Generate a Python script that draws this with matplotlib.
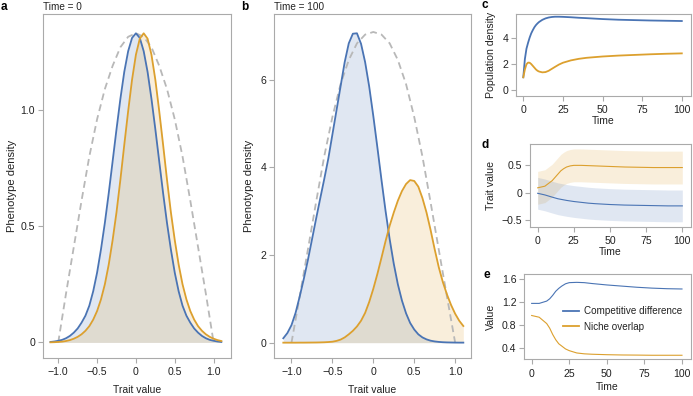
import matplotlib
matplotlib.use("Agg")
import matplotlib.pyplot as plt

plt.rcParams['font.family'] = ['Liberation Sans', 'DejaVu Sans']
plt.rcParams['font.size'] = 7.5

W, H = 693, 396
BLUE = '#4A74B4'
ORANGE = '#DCA02E'
GREY = '#aaaaaa'
TXT = '#222222'

# trait axis for phenotype distributions
trait = [-1.1, -1.05, -1.0, -0.95, -0.9, -0.85, -0.8, -0.75, -0.7, -0.65, -0.6,
         -0.55, -0.5, -0.45, -0.4, -0.35, -0.3, -0.25, -0.2, -0.15, -0.1, -0.05,
         0.0, 0.05, 0.1, 0.15, 0.2, 0.25, 0.3, 0.35, 0.4, 0.45, 0.5, 0.55, 0.6,
         0.65, 0.7, 0.75, 0.8, 0.85, 0.9, 0.95, 1.0, 1.05, 1.1]

# time = 0
blue_t0 = [0.002, 0.004, 0.007, 0.011, 0.018, 0.028, 0.042, 0.06, 0.085, 0.115, 0.158,
           0.22, 0.30, 0.40, 0.514, 0.642, 0.779, 0.917, 1.048, 1.164, 1.253, 1.31,
           1.33, 1.31, 1.253, 1.164, 1.048, 0.917, 0.779, 0.642, 0.514, 0.40, 0.30,
           0.22, 0.158, 0.115, 0.085, 0.06, 0.042, 0.028, 0.018, 0.011, 0.007, 0.004, 0.002]
orange_t0 = [0.0005, 0.001, 0.002, 0.0035, 0.006, 0.01, 0.016, 0.024, 0.035, 0.05, 0.07,
             0.098, 0.135, 0.185, 0.25, 0.335, 0.44, 0.56, 0.70, 0.85, 0.995, 1.13,
             1.238, 1.307, 1.33, 1.307, 1.238, 1.13, 0.995, 0.85, 0.70, 0.56, 0.44,
             0.335, 0.25, 0.185, 0.135, 0.098, 0.07, 0.05, 0.035, 0.024, 0.016, 0.01, 0.006]

# time = 100
blue_t100 = [0.10, 0.22, 0.40, 0.68, 1.05, 1.45, 1.88, 2.35, 2.82, 3.28, 3.73,
             4.2, 4.75, 5.3, 5.85, 6.4, 6.83, 7.05, 7.06, 6.82, 6.4, 5.84,
             5.17, 4.45, 3.71, 3.0, 2.36, 1.80, 1.33, 0.96, 0.67, 0.45, 0.30,
             0.19, 0.12, 0.075, 0.045, 0.028, 0.017, 0.01, 0.006, 0.004, 0.002, 0.001, 0.001]
orange_t100 = [0.0, 0.0, 0.0, 0.0, 0.001, 0.001, 0.002, 0.003, 0.004, 0.006, 0.009,
               0.014, 0.022, 0.04, 0.07, 0.12, 0.19, 0.27, 0.37, 0.50, 0.68, 0.93,
               1.23, 1.57, 1.94, 2.32, 2.67, 2.97, 3.24, 3.46, 3.62, 3.71, 3.69,
               3.56, 3.30, 2.97, 2.57, 2.13, 1.72, 1.38, 1.10, 0.86, 0.66, 0.50, 0.38]

# resource distribution (dashed)
res_x = [-1.0, -0.9, -0.8, -0.7, -0.6, -0.5, -0.4, -0.3, -0.2, -0.1, 0.0,
         0.1, 0.2, 0.3, 0.4, 0.5, 0.6, 0.7, 0.8, 0.9, 1.0]
res_t0 = [0.0, 0.21, 0.41, 0.61, 0.80, 0.96, 1.09, 1.19, 1.27, 1.315, 1.33,
          1.315, 1.27, 1.19, 1.09, 0.96, 0.80, 0.61, 0.41, 0.21, 0.0]
res_t100 = [0.0, 1.05, 2.12, 3.2, 4.25, 5.15, 5.9, 6.45, 6.83, 7.03, 7.09,
            7.03, 6.83, 6.45, 5.9, 5.15, 4.25, 3.2, 2.12, 1.05, 0.0]

# population dynamics
time_c = [0, 1, 2, 3, 4, 5, 6, 7, 8, 9, 10, 12, 14, 16, 18, 20, 22.5, 25, 30, 35,
          40, 50, 60, 70, 80, 90, 100]
pop_blue = [1.0, 2.4, 3.2, 3.65, 4.05, 4.38, 4.63, 4.85, 5.02, 5.15, 5.26, 5.42, 5.53,
            5.6, 5.64, 5.66, 5.66, 5.65, 5.62, 5.58, 5.55, 5.48, 5.43, 5.4, 5.37, 5.35, 5.33]
pop_orange = [1.0, 1.6, 2.0, 2.13, 2.12, 2.02, 1.88, 1.74, 1.6, 1.5, 1.44, 1.38, 1.4,
              1.5, 1.65, 1.8, 1.98, 2.12, 2.3, 2.42, 2.5, 2.6, 2.67, 2.72, 2.77, 2.81, 2.84]

# trait means and spread
time_d = [0, 5, 10, 12, 14, 16, 18, 20, 22.5, 25, 30, 35, 40, 50, 60, 70, 80, 90, 100]
mean_orange = [0.09, 0.12, 0.22, 0.28, 0.34, 0.40, 0.44, 0.47, 0.49, 0.50, 0.50, 0.495,
               0.49, 0.48, 0.47, 0.465, 0.46, 0.46, 0.46]
sd_orange = [0.30, 0.30, 0.30, 0.30, 0.30, 0.30, 0.30, 0.30, 0.30, 0.30, 0.30, 0.30,
             0.30, 0.30, 0.30, 0.30, 0.30, 0.30, 0.30]
mean_blue = [-0.01, -0.04, -0.08, -0.095, -0.11, -0.12, -0.13, -0.14, -0.15, -0.16,
             -0.175, -0.19, -0.2, -0.215, -0.225, -0.23, -0.235, -0.24, -0.24]
sd_blue = [0.29, 0.29, 0.29, 0.29, 0.29, 0.29, 0.29, 0.29, 0.29, 0.29, 0.29, 0.29,
           0.29, 0.29, 0.29, 0.29, 0.29, 0.29, 0.29]

# coexistence metrics
comp_diff = [1.18, 1.18, 1.22, 1.26, 1.32, 1.39, 1.44, 1.48, 1.52, 1.54, 1.545, 1.54,
             1.525, 1.5, 1.48, 1.46, 1.445, 1.435, 1.43]
niche_overlap = [0.97, 0.94, 0.83, 0.75, 0.64, 0.55, 0.48, 0.44, 0.39, 0.36, 0.32, 0.305,
                 0.298, 0.29, 0.285, 0.283, 0.28, 0.28, 0.28]


def px_axes(fig, l, r, t, b):
    return fig.add_axes([l / W, 1 - b / H, (r - l) / W, (b - t) / H])


def style(ax):
    for s in ax.spines.values():
        s.set_color(GREY)
        s.set_linewidth(0.8)
    ax.tick_params(colors=GREY, labelcolor=TXT, length=3.6, width=0.8, labelsize=7.6)
    ax.tick_params(axis='x', pad=3.2)
    ax.tick_params(axis='y', pad=2)


def ylab(ax, text, xpx, size=7.6):
    # xpx: right edge of the rotated label in pixels
    ax.set_ylabel(text, color=TXT, fontsize=size)
    bb = ax.get_position()
    ax.yaxis.set_label_coords(xpx / W, bb.y0 + bb.height / 2, transform=fig.transFigure)


def xlab(ax, text, ypx):
    # ypx: top of the label in pixels
    ax.set_xlabel(text, color=TXT, fontsize=7.5)
    bb = ax.get_position()
    ax.xaxis.set_label_coords(bb.x0 + bb.width / 2, 1 - ypx / H, transform=fig.transFigure)


fig = plt.figure(figsize=(W / 100, H / 100), dpi=100)

trait_ticks = [-1.0, -0.5, 0, 0.5, 1.0]
trait_labels = ['\u22121.0', '\u22120.5', '0', '0.5', '1.0']
DASH = (0, (3.8, 2.4))

# a
ax = px_axes(fig, 42.7, 230.7, 14, 358)
ax.fill_between(trait, 0, blue_t0, color=BLUE, alpha=0.17, lw=0)
ax.fill_between(trait, 0, orange_t0, color=ORANGE, alpha=0.17, lw=0)
ax.plot(res_x, res_t0, color='#b8b8b8', lw=1.3, ls=DASH)
ax.plot(trait, blue_t0, color=BLUE, lw=1.3)
ax.plot(trait, orange_t0, color=ORANGE, lw=1.3)
ax.set_xlim(-1.2, 1.22)
ax.set_ylim(-0.067, 1.413)
ax.set_xticks(trait_ticks, trait_labels)
ax.set_yticks([0, 0.5, 1.0], ['0', '0.5', '1.0'])
style(ax)
ylab(ax, 'Phenotype density', 17.5, 8)
xlab(ax, 'Trait value', 385)

# b
ax = px_axes(fig, 274.3, 470.7, 14, 358)
ax.fill_between(trait, 0, blue_t100, color=BLUE, alpha=0.17, lw=0)
ax.fill_between(trait, 0, orange_t100, color=ORANGE, alpha=0.17, lw=0)
ax.plot(res_x, res_t100, color='#b8b8b8', lw=1.3, ls=DASH)
ax.plot(trait, blue_t100, color=BLUE, lw=1.3)
ax.plot(trait, orange_t100, color=ORANGE, lw=1.3)
ax.set_xlim(-1.21, 1.19)
ax.set_ylim(-0.35, 7.5)
ax.set_xticks(trait_ticks, trait_labels)
ax.set_yticks([0, 2, 4, 6], ['0', '2', '4', '6'])
style(ax)
ylab(ax, 'Phenotype density', 254, 8)
xlab(ax, 'Trait value', 385)

time_ticks = [0, 25, 50, 75, 100]

# c
ax = px_axes(fig, 516, 691, 14, 96)
ax.plot(time_c, pop_blue, color=BLUE, lw=1.3)
ax.plot(time_c, pop_orange, color=ORANGE, lw=1.3)
ax.set_xlim(-4.6, 105.8)
ax.set_ylim(-0.44, 5.87)
ax.set_xticks(time_ticks)
ax.set_yticks([0, 2, 4])
style(ax)
ylab(ax, 'Population density', 496)
xlab(ax, 'Time', 116)

# d
ax = px_axes(fig, 530, 691, 144, 226.7)
lo_o = [m - s for m, s in zip(mean_orange, sd_orange)]
hi_o = [m + s for m, s in zip(mean_orange, sd_orange)]
lo_b = [m - s for m, s in zip(mean_blue, sd_blue)]
hi_b = [m + s for m, s in zip(mean_blue, sd_blue)]
ax.fill_between(time_d, lo_o, hi_o, color=ORANGE, alpha=0.17, lw=0)
ax.fill_between(time_d, lo_b, hi_b, color=BLUE, alpha=0.17, lw=0)
ax.plot(time_d, mean_orange, color=ORANGE, lw=0.8)
ax.plot(time_d, mean_blue, color=BLUE, lw=0.8)
ax.set_xlim(-5.3, 106)
ax.set_ylim(-0.62, 0.89)
ax.set_xticks(time_ticks)
ax.set_yticks([-0.5, 0, 0.5], ['\u22120.5', '0', '0.5'])
style(ax)
ylab(ax, 'Trait value', 496)
xlab(ax, 'Time', 247)

# e
ax = px_axes(fig, 524.3, 691, 274, 359.3)
ax.plot(time_d, comp_diff, color=BLUE, lw=0.8, label='Competitive difference')
ax.plot(time_d, niche_overlap, color=ORANGE, lw=0.8, label='Niche overlap')
ax.set_xlim(-4.9, 106)
ax.set_ylim(0.21, 1.69)
ax.set_xticks(time_ticks)
ax.set_yticks([0.4, 0.8, 1.2, 1.6], ['0.4', '0.8', '1.2', '1.6'])
style(ax)
ylab(ax, 'Value', 496)
xlab(ax, 'Time', 381.5)
leg = ax.legend(loc='upper left', bbox_to_anchor=(563.3 / W, 1 - 306 / H),
                bbox_transform=fig.transFigure, frameon=False, fontsize=7.1,
                handlelength=1.6, handletextpad=0.45, labelspacing=0.6,
                borderpad=0, borderaxespad=0)
for t in leg.get_texts():
    t.set_color(TXT)
for h in leg.legend_handles:
    h.set_linewidth(1.3)

# panel letters and titles
fig.text(1 / W, 1 - 6.5 / H, 'a', fontsize=8.5, fontweight='bold', va='center', ha='left')
fig.text(241.5 / W, 1 - 6.5 / H, 'b', fontsize=8.5, fontweight='bold', va='center', ha='left')
fig.text(481 / W, 1 - 5 / H, 'c', fontsize=8.5, fontweight='bold', va='center', ha='left')
fig.text(481 / W, 1 - 145 / H, 'd', fontsize=8.5, fontweight='bold', va='center', ha='left')
fig.text(483 / W, 1 - 275 / H, 'e', fontsize=8.5, fontweight='bold', va='center', ha='left')
fig.text(42.7 / W, 1 - 6.5 / H, 'Time = 0', fontsize=7.2, color=TXT, va='center', ha='left')
fig.text(274 / W, 1 - 6.5 / H, 'Time = 100', fontsize=7.2, color=TXT, va='center', ha='left')

fig.savefig('out.png', dpi=100)
